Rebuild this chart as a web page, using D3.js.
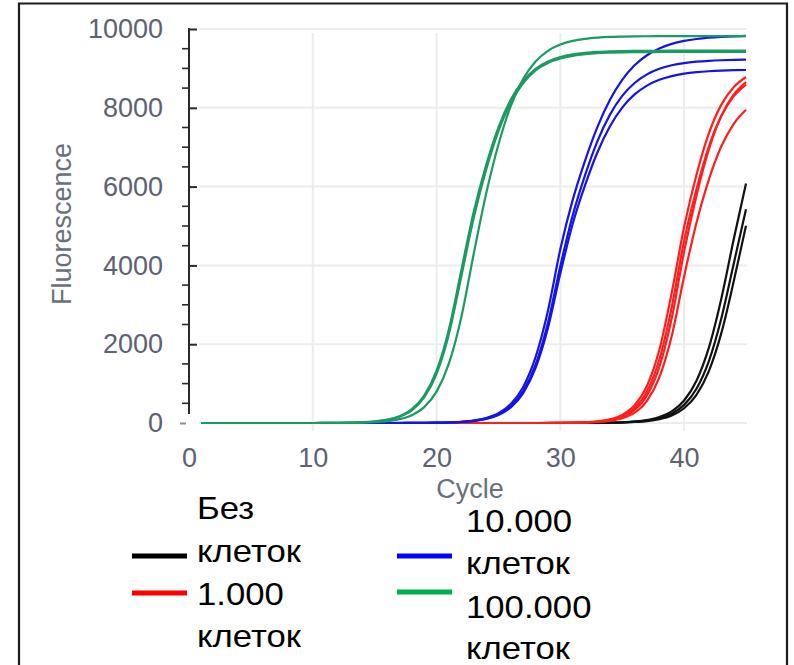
<!DOCTYPE html>
<html>
<head>
<meta charset="utf-8">
<script src="https://cdn.jsdelivr.net/npm/d3@7"></script>
<style>
  html, body { margin: 0; padding: 0; background: #ffffff; }
  svg { display: block; }
</style>
</head>
<body>
<svg id="chart" width="794" height="665"></svg>
<script>
// qPCR amplification curves: fluorescence per cycle for four cell dilutions
const cycles = [
   1,  2,  3,  4,  5,  6,  7,  8,  9, 10, 11, 12, 13, 14, 15,
  16, 17, 18, 19, 20, 21, 22, 23, 24, 25, 26, 27, 28, 29, 30,
  31, 32, 33, 34, 35, 36, 37, 38, 39, 40, 41, 42, 43, 44, 45
];

// no cells (black)
const noCells1 = [
  0,0,0,0,0,0,0,0,0,0,0,0,0,0,0,
  0,0,0,0,0,0,0,0,0,0,0,0,0,0,0,
  0,2,5,10,19,39,77,151,297,572,1073,1912,3148,4650,6080
];
const noCells2 = [
  0,0,0,0,0,0,0,0,0,0,0,0,0,0,0,
  0,0,0,0,0,0,0,0,0,0,0,0,0,0,0,
  0,0,4,8,15,31,61,121,237,460,870,1573,2648,4031,5423
];
const noCells3 = [
  0,0,0,0,0,0,0,0,0,0,0,0,0,0,0,
  0,0,0,0,0,0,0,0,0,0,0,0,0,0,0,
  0,0,3,6,12,25,49,98,192,375,716,1317,2274,3582,5007
];

// 1.000 cells (red)
const cells1k1 = [
  0,0,0,0,0,0,0,0,0,0,0,0,0,0,0,
  0,0,0,0,0,0,0,0,0,0,0,0,0,2,4,
  9,19,43,94,207,449,941,1858,3308,4975,6303,7353,8074,8520,8781
];
const cells1k2 = [
  0,0,0,0,0,0,0,0,0,0,0,0,0,0,0,
  0,0,0,0,0,0,0,0,0,0,0,0,0,1,3,
  7,16,36,79,174,380,804,1612,2940,4626,5934,7015,7790,8289,8589
];
const cells1k3 = [
  0,0,0,0,0,0,0,0,0,0,0,0,0,0,0,
  0,0,0,0,0,0,0,0,0,0,0,0,0,0,3,
  6,14,31,68,150,329,700,1423,2656,4349,5771,6943,7789,8332,8655
];
const cells1k4 = [
  0,0,0,0,0,0,0,0,0,0,0,0,0,0,0,
  0,0,0,0,0,0,0,0,0,0,0,0,0,0,2,
  5,11,25,54,120,262,563,1158,2206,3721,5083,6178,7016,7588,7949
];

// 10.000 cells (blue)
const cells10k1 = [
  0,0,0,0,0,0,0,0,0,0,0,0,0,0,0,
  0,1,2,4,8,16,32,64,126,248,482,916,1672,2851,4412,
  5662,6660,7517,8200,8711,9078,9333,9505,9622,9697,9747,9780,9801,9815,9824
];
const cells10k2 = [
  0,0,0,0,0,0,0,0,0,0,0,0,0,0,0,
  0,0,2,4,7,14,28,56,111,218,424,808,1480,2545,3982,
  5270,6293,7156,7821,8301,8630,8848,8989,9079,9136,9171,9193,9207,9216,9221
];
const cells10k3 = [
  0,0,0,0,0,0,0,0,0,0,0,0,0,0,0,
  0,0,2,3,7,13,26,52,104,205,398,760,1397,2412,3795,
  5056,6035,6871,7526,8006,8339,8564,8711,8805,8866,8904,8928,8944,8954,8960
];

// 100.000 cells (green)
const cells100k1 = [
  0,0,0,0,0,0,0,0,0,0,2,5,10,20,41,
  84,172,350,696,1328,2382,3879,5358,6542,7506,8212,8685,8991,9177,9288,
  9356,9395,9418,9431,9439,9444,9446,9448,9449,9449,9450,9450,9450,9450,9450
];
const cells100k2 = [
  0,0,0,0,0,0,0,0,0,0,2,4,9,18,38,
  77,158,323,648,1245,2260,3720,5200,6420,7410,8130,8630,8950,9140,9250,
  9320,9360,9385,9398,9406,9411,9414,9416,9417,9418,9418,9419,9419,9420,9420
];
const cells100k3 = [
  0,0,0,0,0,0,0,0,0,0,1,3,5,11,23,
  48,98,199,403,797,1513,2684,4290,5811,7068,8049,8735,9176,9446,9605,
  9697,9750,9780,9798,9807,9813,9816,9818,9819,9819,9820,9820,9820,9820,9820
];

const xTicks = [0, 10, 20, 30, 40];
const yTicks = [0, 2000, 4000, 6000, 8000, 10000];
const yMinorTicks = [500, 1000, 1500, 2500, 3000, 3500, 4500, 5000, 5500,
                     6500, 7000, 7500, 8500, 9000, 9500];

const groups = [
  { label: ["Без", "клеток"],     color: "#111111", swatch: "#000000", series: [noCells1, noCells2, noCells3] },
  { label: ["1.000", "клеток"],   color: "#ff1e1e", swatch: "#ff0000", series: [cells1k1, cells1k2, cells1k3, cells1k4] },
  { label: ["10.000", "клеток"],  color: "#1414e6", swatch: "#0000ff", series: [cells10k1, cells10k2, cells10k3] },
  { label: ["100.000", "клеток"], color: "#1c9a62", swatch: "#00b050", series: [cells100k1, cells100k2, cells100k3] }
];

const svg = d3.select("#chart");
const FONT = "'Liberation Sans', Arial, Helvetica, sans-serif";

// frame around the figure
svg.append("path")
  .attr("d", "M19,668 V3.5 H787 V668")
  .attr("fill", "none")
  .attr("stroke", "#1c1c1c")
  .attr("stroke-width", 2.2);

const x = d3.scaleLinear().domain([0, 45]).range([189, 746]);
const y = d3.scaleLinear().domain([0, 10000]).range([423, 29]);

// grid
const grid = svg.append("g").attr("stroke", "#ececec").attr("stroke-width", 2);
grid.selectAll("line.h").data(yTicks).join("line")
  .attr("x1", 199).attr("x2", 747)
  .attr("y1", d => y(d)).attr("y2", d => y(d));
grid.selectAll("line.v").data(xTicks.filter(d => d > 0)).join("line")
  .attr("x1", d => x(d)).attr("x2", d => x(d))
  .attr("y1", y(9900)).attr("y2", 431);

// y axis
const yAxis = svg.append("g")
  .attr("transform", `translate(${x(0)},0)`)
  .call(d3.axisLeft(y).tickValues(yTicks).tickFormat(d3.format("d"))
    .tickSizeInner(7).tickSizeOuter(0).tickPadding(19));
yAxis.select(".domain").remove();
yAxis.selectAll(".tick line").attr("stroke-width", 2)
  .attr("x2", d => d === 0 ? -3 : 8).attr("x1", d => d === 0 ? -9 : 0)
  .attr("stroke", d => d === 0 ? "#8a8f99" : "#2a2a2a");
yAxis.selectAll(".tick text")
  .attr("font-family", FONT).attr("font-size", 27).attr("fill", "#5c6271");
yAxis.selectAll("line.minor").data(yMinorTicks).join("line")
  .attr("class", "minor")
  .attr("x1", -7).attr("x2", 0)
  .attr("y1", d => y(d)).attr("y2", d => y(d))
  .attr("stroke", "#2a2a2a").attr("stroke-width", 1.6);
yAxis.append("line")
  .attr("x1", 0).attr("x2", 0)
  .attr("y1", y(10000) - 1).attr("y2", y(230))
  .attr("stroke", "#2a2a2a").attr("stroke-width", 2);

// x axis (labels only)
const xAxis = svg.append("g")
  .attr("transform", `translate(0,${y(0)})`)
  .call(d3.axisBottom(x).tickValues(xTicks).tickSize(0).tickPadding(25));
xAxis.select(".domain").remove();
xAxis.selectAll(".tick text")
  .attr("font-family", FONT).attr("font-size", 27).attr("fill", "#5c6271");

// axis titles
svg.append("text")
  .attr("transform", `translate(71,${y(5050)}) rotate(-90)`)
  .attr("text-anchor", "middle")
  .attr("font-family", FONT).attr("font-size", 27).attr("fill", "#6a6f7c")
  .text("Fluorescence");
svg.append("text")
  .attr("x", x(22.7)).attr("y", 498)
  .attr("text-anchor", "middle")
  .attr("font-family", FONT).attr("font-size", 27).attr("fill", "#6a6f7c")
  .text("Cycle");

// amplification curves
const line = d3.line()
  .x((d, i) => x(cycles[i]))
  .y(d => y(d))
  .curve(d3.curveMonotoneX);

const curves = svg.append("g").attr("fill", "none").attr("stroke-width", 2.2);
groups.forEach(g => {
  curves.append("g").attr("stroke", g.color)
    .selectAll("path").data(g.series).join("path")
    .attr("d", line);
});

// legend
const legendPos = [
  { sx: 132, sy: 556, tx: 197, ty: [519, 562] },
  { sx: 132, sy: 593, tx: 197, ty: [605, 647] },
  { sx: 397, sy: 556, tx: 466, ty: [532, 574] },
  { sx: 397, sy: 592, tx: 466, ty: [618, 659] }
];
const legend = svg.append("g");
groups.forEach((g, i) => {
  const p = legendPos[i];
  legend.append("line")
    .attr("x1", p.sx).attr("x2", p.sx + 55)
    .attr("y1", p.sy).attr("y2", p.sy)
    .attr("stroke", g.swatch).attr("stroke-width", 5);
  g.label.forEach((t, k) => {
    legend.append("text")
      .attr("transform", `translate(${p.tx},${p.ty[k]}) scale(1.12,1)`)
      .attr("font-family", FONT).attr("font-size", 31).attr("fill", "#000")
      .text(t);
  });
});
</script>
</body>
</html>
